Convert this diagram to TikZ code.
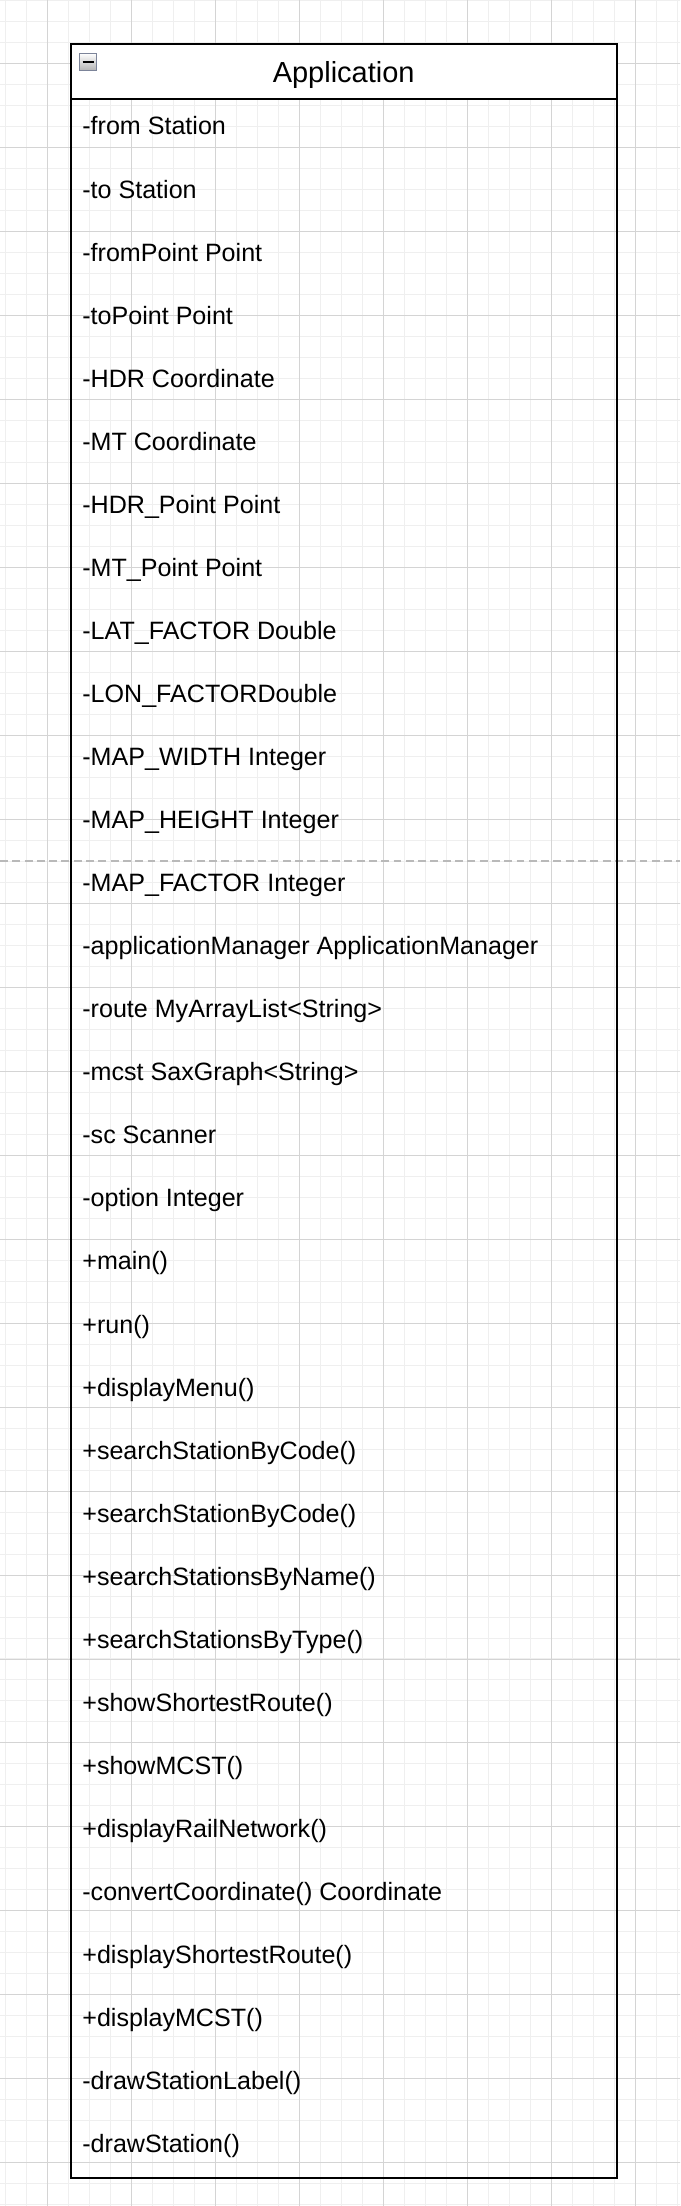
\documentclass[tikz,border=0pt]{standalone}
\usepackage{fontspec}
\setmainfont{Liberation Sans}
\definecolor{gridminor}{HTML}{EFEFEF}
\definecolor{gridmajor}{HTML}{D4D4D4}
\definecolor{iconframe}{HTML}{7C8499}
\begin{document}
\begin{tikzpicture}[x=0.02cm, y=-0.02cm,
    member/.style={anchor=base west, inner sep=0pt, font=\fontsize{14.28pt}{17pt}\selectfont},
    title/.style={anchor=base, inner sep=0pt, font=\fontsize{16.5pt}{20pt}\selectfont},
    minorline/.style={draw=gridminor, line width=0.55pt},
    majorline/.style={draw=gridmajor, line width=0.55pt},
    pagebreak/.style={draw=gray!55, line width=0.6pt, dash pattern=on 4.5pt off 2.5pt},
    umlbox/.style={draw=black, line width=1.2pt}]
    \useasboundingbox (0,0) rectangle (680,2206);
    \fill[white] (0,0) rectangle (680,2206);

    % background grid
    \begin{scope}
        \clip (0,0) rectangle (680,2206);
        \draw[minorline, step=0.42cm, shift={(5.7,0.3)}] (-21,2230) grid (700,-21);
        \draw[majorline, step=1.68cm, shift={(47.7,63.3)}] (-84,2230) grid (700,-84);
    \end{scope}
    \draw[pagebreak] (0,861) -- (680,861);

    % class box
    \draw[umlbox, fill=white] (70.7,43.7) rectangle (616.7,98.7);
    \draw[umlbox] (70.7,98.7) rectangle (616.7,2178);
    \shade[top color=white, bottom color=gray!60, draw=iconframe, line width=0.8pt] (79.3,53.3) rectangle (96.7,70.7);
    \draw[line width=1.2pt] (82.7,62) -- (94,62);

    \node[title] (A) at (343.7,82.7) {Application};

    \node[member] (B) at (82,135.0) {-from Station};
    \node[member] (C) at (82,198.1) {-to Station};
    \node[member] (D) at (82,261.1) {-fromPoint Point};
    \node[member] (E) at (82,324.2) {-toPoint Point};
    \node[member] (F) at (82,387.2) {-HDR Coordinate};
    \node[member] (G) at (82,450.3) {-MT Coordinate};
    \node[member] (H) at (82,513.3) {-HDR\_Point Point};
    \node[member] (I) at (82,576.4) {-MT\_Point Point};
    \node[member] (J) at (82,639.4) {-LAT\_FACTOR Double};
    \node[member] (K) at (82,702.5) {-LON\_FACTORDouble};
    \node[member] (L) at (82,765.5) {-MAP\_WIDTH Integer};
    \node[member] (M) at (82,828.6) {-MAP\_HEIGHT Integer};
    \node[member] (N) at (82,891.6) {-MAP\_FACTOR Integer};
    \node[member] (O) at (82,954.7) {-applicationManager ApplicationManager};
    \node[member] (P) at (82,1017.7) {-route MyArrayList<String>};
    \node[member] (Q) at (82,1080.8) {-mcst SaxGraph<String>};
    \node[member] (R) at (82,1143.8) {-sc Scanner};
    \node[member] (S) at (82,1206.9) {-option Integer};
    \node[member] (T) at (82,1269.9) {+main()};
    \node[member] (U) at (82,1333.0) {+run()};
    \node[member] (V) at (82,1396.0) {+displayMenu()};
    \node[member] (W) at (82,1459.1) {+searchStationByCode()};
    \node[member] (X) at (82,1522.1) {+searchStationByCode()};
    \node[member] (Y) at (82,1585.2) {+searchStationsByName()};
    \node[member] (Z) at (82,1648.2) {+searchStationsByType()};
    \node[member] (AA) at (82,1711.3) {+showShortestRoute()};
    \node[member] (AB) at (82,1774.3) {+showMCST()};
    \node[member] (AC) at (82,1837.4) {+displayRailNetwork()};
    \node[member] (AD) at (82,1900.4) {-convertCoordinate() Coordinate};
    \node[member] (AE) at (82,1963.5) {+displayShortestRoute()};
    \node[member] (AF) at (82,2026.5) {+displayMCST()};
    \node[member] (AG) at (82,2089.6) {-drawStationLabel()};
    \node[member] (AH) at (82,2152.6) {-drawStation()};
\end{tikzpicture}
\end{document}
